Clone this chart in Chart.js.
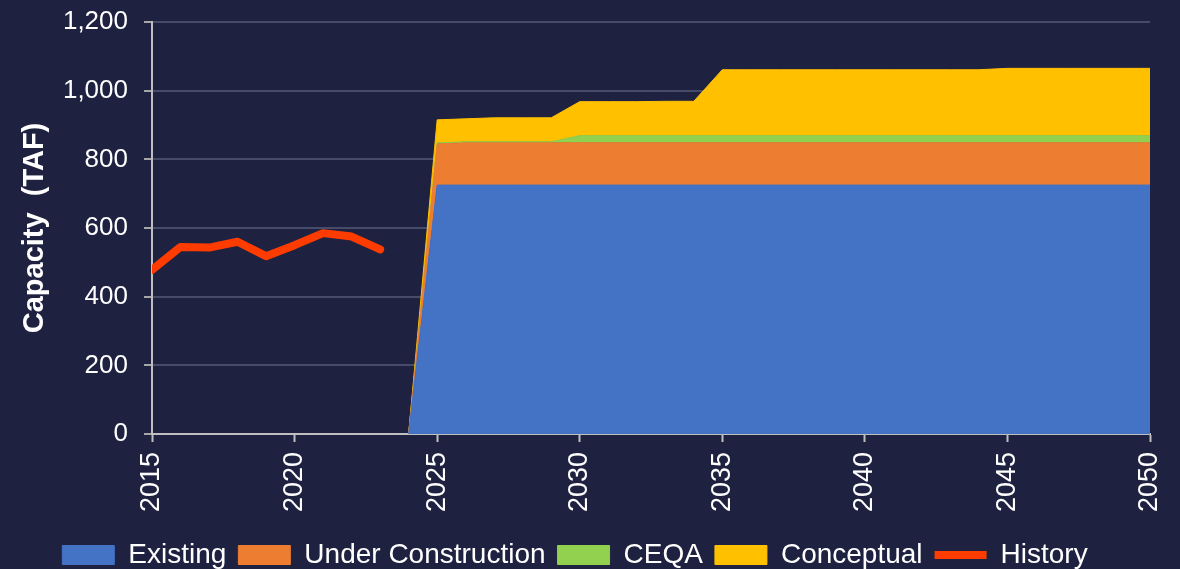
<!DOCTYPE html>
<html>
<head>
<meta charset="utf-8">
<script src="https://cdn.jsdelivr.net/npm/chart.js@4.4.1/dist/chart.umd.min.js"></script>
<style>
  html, body { margin: 0; padding: 0; background: #1e2140; }
  #wrap { width: 1180px; height: 569px; position: relative; }
</style>
</head>
<body>
<div id="wrap"><canvas id="c" width="1180" height="569"></canvas></div>
<script>
const histYears = [2015, 2016, 2017, 2018, 2019, 2020, 2021, 2022, 2023];
const history   = [478, 545, 543, 560, 518, 550, 585, 575, 538];

const projYears = [2024, 2025, 2026, 2027, 2028, 2029, 2030, 2031, 2032, 2033,
                   2034, 2035, 2036, 2037, 2038, 2039, 2040, 2041, 2042, 2043,
                   2044, 2045, 2046, 2047, 2048, 2049, 2050];
const existing = [0, 725, 725, 725, 725, 725, 725, 725, 725, 725,
                  725, 725, 725, 725, 725, 725, 725, 725, 725, 725,
                  725, 725, 725, 725, 725, 725, 725];
const underConstruction = [0, 120, 123, 123, 123, 123, 123, 123, 123, 123,
                  123, 123, 123, 123, 123, 123, 123, 123, 123, 123,
                  123, 123, 123, 123, 123, 123, 123];
const ceqa = [0, 3, 3, 3, 3, 3, 21, 21, 21, 21,
              21, 21, 21, 21, 21, 21, 21, 21, 21, 21,
              21, 21, 21, 21, 21, 21, 21];
const conceptual = [0, 67, 67, 70, 70, 70, 99, 99, 99, 100,
              100, 192, 192, 192, 192, 192, 192, 192, 192, 192,
              192, 196, 196, 196, 196, 196, 196];

const xTicks = [2015, 2020, 2025, 2030, 2035, 2040, 2045, 2050];
const yTicks = [0, 200, 400, 600, 800, 1000, 1200];

const pts = (xs, ys) => xs.map((x, i) => ({ x: x, y: ys[i] }));

function area(label, xs, ys, color, fill) {
  return {
    label: label,
    data: pts(xs, ys),
    backgroundColor: color,
    borderColor: color,
    borderWidth: 1,
    fill: fill,
    pointRadius: 0,
    pointHoverRadius: 0,
    pointStyle: 'rect',
    tension: 0,
    stack: 'proj'
  };
}

const FONT = "'Liberation Sans', Arial, sans-serif";

new Chart(document.getElementById('c'), {
  type: 'line',
  data: {
    datasets: [
      area('Existing', projYears, existing, '#4472c4', 'origin'),
      area('Under Construction', projYears, underConstruction, '#ed7d31', '-1'),
      area('CEQA', projYears, ceqa, '#92d050', '-1'),
      area('Conceptual', projYears, conceptual, '#ffc000', '-1'),
      {
        label: 'History',
        data: pts(histYears, history),
        borderColor: '#ff3c00',
        backgroundColor: '#ff3c00',
        borderWidth: 8,
        borderCapStyle: 'round',
        borderJoinStyle: 'round',
        fill: false,
        pointRadius: 0,
        pointHoverRadius: 0,
        pointStyle: 'line',
        tension: 0,
        stack: 'hist'
      }
    ]
  },
  options: {
    responsive: false,
    animation: false,
    layout: { padding: { top: 22, right: 30, left: 0, bottom: -10 } },
    plugins: {
      legend: {
        position: 'bottom',
        labels: {
          color: '#ffffff',
          font: { family: FONT, size: 28 },
          usePointStyle: true,
          pointStyleWidth: 52,
          boxHeight: 19,
          padding: 12
        }
      },
      tooltip: { enabled: false }
    },
    scales: {
      x: {
        type: 'linear',
        min: 2015,
        max: 2050,
        afterBuildTicks: (s) => { s.ticks = xTicks.map(v => ({ value: v })); },
        afterFit: (s) => { s.height = 95; s.paddingLeft = 0; s.paddingRight = 0; },
        ticks: {
          color: '#ffffff',
          font: { family: FONT, size: 27 },
          maxRotation: 90,
          minRotation: 90,
          padding: 10,
          callback: (v) => String(v)
        },
        grid: {
          drawOnChartArea: false,
          drawTicks: true,
          tickLength: 8,
          tickColor: '#bfbfbf',
          tickWidth: 2
        },
        border: { color: '#bfbfbf', width: 2 }
      },
      y: {
        stacked: true,
        min: 0,
        max: 1200,
        afterBuildTicks: (s) => { s.ticks = yTicks.map(v => ({ value: v })); },
        afterFit: (s) => { s.width = 152; s.paddingTop = 0; s.paddingBottom = 0; },
        ticks: {
          color: '#ffffff',
          font: { family: FONT, size: 26 },
          padding: 16,
          callback: (v) => v.toLocaleString('en-US')
        },
        grid: {
          color: '#474b6a',
          lineWidth: 2,
          drawTicks: true,
          tickLength: 8,
          tickColor: '#a6a6a6',
          tickWidth: 2
        },
        border: { color: '#bfbfbf', width: 2 },
        title: {
          display: true,
          text: 'Capacity  (TAF)',
          color: '#ffffff',
          font: { family: FONT, size: 29, weight: 'bold' },
          padding: { top: 18, bottom: 0 }
        }
      }
    }
  }
});
</script>
</body>
</html>
